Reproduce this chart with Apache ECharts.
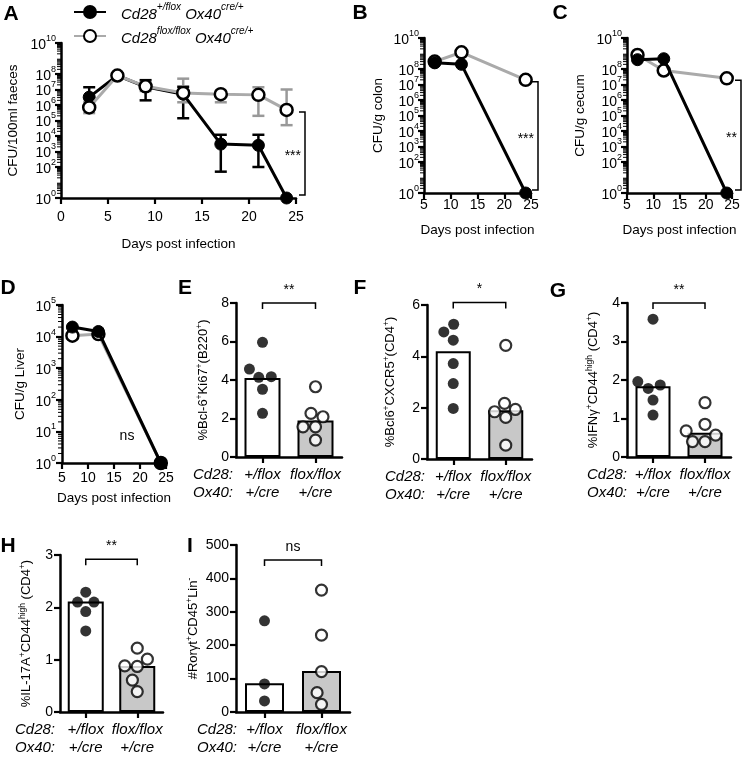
<!DOCTYPE html>
<html><head><meta charset="utf-8">
<script src="https://cdn.jsdelivr.net/npm/echarts@6/dist/echarts.min.js"></script>
<style>html,body{margin:0;padding:0;background:#fff}#c{width:743px;height:758px}</style>
</head><body><div id="c"></div>
<script>
// ---------------- DATA ----------------
// Panel A: CFU/100ml faeces
const daysFaeces = [3, 6, 9, 13, 17, 21, 24];
const faecesHet = [3.2e6, 8e7, 1.5e7, 5e6, 3e3, 2.5e3, 1];
const faecesHetLow = [6e5, 5e7, 2e6, 1.4e5, 50, 100, 1];
const faecesHetHigh = [1.4e7, 1.1e8, 4e7, 1.5e7, 1.2e4, 1.2e4, 1];
const faecesKo = [7e5, 8e7, 1.6e7, 6e6, 5e6, 4.5e6, 4.8e5];
const faecesKoLow = [3e5, 5e7, 8e6, 1.5e6, 1.5e6, 2e5, 5e4];
const faecesKoHigh = [1.5e6, 1.1e8, 3e7, 5e7, 8e6, 1.4e7, 1e7];
// Panels B-D
const daysOrgan = [7, 12, 24];
const colonHet = [2.5e8, 2e8, 1];
const colonKo = [3e8, 1.2e9, 2e7];
const cecumHet = [4e8, 4.6e8, 1];
const cecumKo = [8e8, 8e7, 2.5e7];
const liverHet = [2e4, 1.45e4, 1];
const liverKo = [1.07e4, 1.2e4, 1];
// Panels E-I (genotype groups)
const genotypeCats = ['+/flox\n+/cre', 'flox/flox\n+/cre'];
const bcl6Ki67Het = [5.96, 4.57, 4.14, 4.17, 3.52, 2.27];
const bcl6Ki67Ko = [3.65, 2.27, 2.09, 1.57, 1.57, 0.88];
const bcl6Ki67Bars = [4.1, 1.9];
const bcl6Cxcr5Het = [5.25, 4.95, 4.63, 3.72, 2.94, 1.97];
const bcl6Cxcr5Ko = [4.43, 2.17, 1.93, 1.84, 1.62, 0.54];
const bcl6Cxcr5Bars = [4.2, 1.9];
const ifngHet = [3.58, 1.96, 1.87, 1.78, 1.48, 1.09];
const ifngKo = [1.41, 0.85, 0.68, 0.57, 0.4, 0.4];
const ifngBars = [1.84, 0.63];
const il17Het = [2.29, 2.10, 2.10, 1.92, 1.55];
const il17Ko = [1.22, 1.01, 0.88, 0.87, 0.61, 0.39];
const il17Bars = [2.11, 0.88];
const rorgtHet = [273, 84, 33];
const rorgtKo = [365, 230, 121, 58, 23];
const rorgtBars = [86, 123];
// significance labels and bracket levels
const sigLabels = {A:'***', B:'***', C:'**', D:'ns', E:'**', F:'*', G:'**', H:'**', I:'ns'};
const sigLevels = {E:8, F:6.1, G:4, H:2.92, I:455};

// ---------------- LAYOUT / STYLE ----------------
const FONT = '"Liberation Sans", Arial, Helvetica, sans-serif';
const L = {
  A:{left:61, top:43, width:235, height:155},
  B:{left:424, top:38, width:107, height:155},
  C:{left:627, top:38, width:105, height:155},
  D:{left:62, top:305, width:104, height:158},
  E:{left:236, top:303, width:106, height:154},
  F:{left:427, top:305, width:105, height:154},
  G:{left:627, top:303, width:104, height:154},
  H:{left:60, top:555, width:103, height:157},
  I:{left:236, top:545, width:114, height:167}
};
const order = ['A','B','C','D','E','F','G','H','I'];
const gi = k => order.indexOf(k);
const GREY_LINE = '#aaaaaa';
const BAR_GREY = '#c8c8c8';

const grids = order.map(k => ({left:L[k].left, top:L[k].top, width:L[k].width, height:L[k].height, containLabel:false}));
const xAxes = [], yAxes = [], series = [];

const axisLineStyle = {show:true, lineStyle:{color:'#000', width:2.5}};
const tickStyle = len => ({show:true, length:len, lineStyle:{color:'#000', width:2.2}});

// decades: the axis max is set a hair under the last decade so that ECharts puts one tick per decade
function logY(k, maxExp, name, nameGap, margin){
  yAxes.push({
    gridIndex: gi(k), type:'log', logBase:10, min:1, max:Math.pow(10, maxExp) * 0.9999,
    axisLine: axisLineStyle, axisTick: tickStyle(6),
    splitLine:{show:false},
    axisLabel:{
      margin: margin, color:'#000', fontFamily:FONT, showMaxLabel:true, showMinLabel:true,
      formatter: v => '{b|10}{s|' + Math.round(Math.log10(v)) + '}',
      rich:{
        b:{fontSize:14, lineHeight:18, verticalAlign:'bottom', fontFamily:FONT, color:'#000'},
        s:{fontSize:9, lineHeight:9, verticalAlign:'top', fontFamily:FONT, color:'#000'}
      }
    },
    name: name, nameLocation:'middle', nameGap: nameGap, nameRotate:90,
    nameTextStyle:{fontSize:13.5, fontFamily:FONT, color:'#000'}
  });
}
// log minor ticks (2..9 x 10^n) drawn through the axis scale
function logMinorTicks(k, xMin, maxExp){
  const vals = [];
  for (let e = 0; e < maxExp; e++) for (let m = 2; m <= 9; m++) vals.push([xMin, m * Math.pow(10, e)]);
  series.push({
    type:'custom', xAxisIndex: gi(k), yAxisIndex: gi(k), z:0, silent:true, clip:false,
    data: vals, encode:{x:0, y:1},
    renderItem(params, api){
      const p = api.coord([api.value(0), api.value(1)]);
      return {type:'line', shape:{x1:p[0]-4, y1:p[1], x2:p[0], y2:p[1]}, style:{stroke:'#000', lineWidth:1}};
    }
  });
}
function dayX(k, min, nameGap, margin){
  xAxes.push({
    gridIndex: gi(k), type:'value', min:min, max:25, interval:5,
    axisLine: axisLineStyle, axisTick: tickStyle(6), splitLine:{show:false},
    axisLabel:{margin: margin, fontSize:14, fontFamily:FONT, color:'#000'},
    name:'Days post infection', nameLocation:'middle', nameGap:nameGap,
    nameTextStyle:{fontSize:13.5, fontFamily:FONT, color:'#000'}
  });
}
function lineSeries(k, name, days, vals, filled, z){
  series.push({
    type:'line', name: name, xAxisIndex: gi(k), yAxisIndex: gi(k), z: z,
    data: days.map((d,i)=>[d, vals[i]]),
    symbol:'circle', symbolSize:12, showAllSymbol:true,
    lineStyle:{color: filled ? '#000' : GREY_LINE, width:3},
    itemStyle: filled ? {color:'#000', borderColor:'#000', borderWidth:1}
                      : {color:'#fff', borderColor:'#000', borderWidth:2.5},
    emphasis:{disabled:true}
  });
}
function errorSeries(k, days, lo, hi, color){
  series.push({
    type:'custom', xAxisIndex: gi(k), yAxisIndex: gi(k), z:1, silent:true, clip:false,
    data: days.map((d,i)=>[d, lo[i], hi[i]]).filter(r => r[1] !== r[2]),
    encode:{x:0, y:[1,2]},
    renderItem(params, api){
      const x = api.value(0);
      const a = api.coord([x, api.value(1)]), b = api.coord([x, api.value(2)]);
      const cap = 6, st = {stroke: color, lineWidth: 2.5};
      return {type:'group', children:[
        {type:'line', shape:{x1:a[0], y1:a[1], x2:b[0], y2:b[1]}, style:st},
        {type:'line', shape:{x1:a[0]-cap, y1:a[1], x2:a[0]+cap, y2:a[1]}, style:st},
        {type:'line', shape:{x1:b[0]-cap, y1:b[1], x2:b[0]+cap, y2:b[1]}, style:st}
      ]};
    }
  });
}
function sideBracket(k, day, top, bottom, dxPx, label){
  series.push({
    type:'custom', xAxisIndex: gi(k), yAxisIndex: gi(k), z:5, silent:true, clip:false,
    data:[[day, top, bottom]], encode:{x:0, y:[1,2]},
    renderItem(params, api){
      const a = api.coord([api.value(0), api.value(1)]), b = api.coord([api.value(0), api.value(2)]);
      const x = a[0] + dxPx, y1 = a[1] + 2, y2 = b[1] - 3;
      return {type:'group', children:[
        {type:'polyline', shape:{points:[[x-6,y1],[x,y1],[x,y2],[x-6,y2]]}, style:{stroke:'#000', lineWidth:1.5, fill:null}},
        {type:'text', x: x-4, y:(y1+y2)/2 + 3, style:{text:label, fill:'#000', font:'14px '+FONT, align:'right', verticalAlign:'middle'}}
      ]};
    }
  });
}

// ---- Panel A ----
dayX('A', 0, 39, 12);
logY('A', 10, 'CFU/100ml faeces', 41, 5);
logMinorTicks('A', 0, 10);
errorSeries('A', daysFaeces, faecesHetLow, faecesHetHigh, '#000');
errorSeries('A', daysFaeces, faecesKoLow, faecesKoHigh, '#999');
lineSeries('A', 'het', daysFaeces, faecesHet, true, 2);
lineSeries('A', 'ko', daysFaeces, faecesKo, false, 3);
sideBracket('A', 25, faecesKo[faecesKo.length-1], faecesHet[faecesHet.length-1], 9, sigLabels.A);
// ---- Panel B ----
dayX('B', 5, 30, 5);
logY('B', 10, 'CFU/g colon', 39, 5);
logMinorTicks('B', 5, 10);
lineSeries('B', 'ko_b', daysOrgan, colonKo, false, 2);
lineSeries('B', 'het_b', daysOrgan, colonHet, true, 3);
sideBracket('B', 25, colonKo[2], colonHet[2], 7, sigLabels.B);
// ---- Panel C ----
dayX('C', 5, 30, 5);
logY('C', 10, 'CFU/g cecum', 40, 5);
logMinorTicks('C', 5, 10);
lineSeries('C', 'ko_c', daysOrgan, cecumKo, false, 2);
lineSeries('C', 'het_c', daysOrgan, cecumHet, true, 3);
sideBracket('C', 25, cecumKo[2], cecumHet[2], 9, sigLabels.C);
// ---- Panel D ----
dayX('D', 5, 28, 8);
logY('D', 5, 'CFU/g Liver', 35, 6);
logMinorTicks('D', 5, 5);
lineSeries('D', 'ko_d', daysOrgan, liverKo, false, 2);
lineSeries('D', 'het_d', daysOrgan, liverHet, true, 3);

// ---- Bar panels ----
const SYM = 11;
function swarm(values, ppu, D){
  const idx = values.map((v,i)=>i).sort((a,b)=>values[a]-values[b]);
  const placed = [], off = new Array(values.length).fill(0);
  for (const i of idx){
    const y = values[i]*ppu;
    const cands = [0];
    for (const p of placed){
      const dy = Math.abs(y-p.y);
      if (dy < D){ const dx = Math.sqrt(D*D-dy*dy); cands.push(p.x-dx, p.x+dx); }
    }
    cands.sort((a,b)=>Math.abs(a)-Math.abs(b) || a-b);
    let x = 0;
    for (const c of cands){
      if (placed.every(p => (p.x-c)*(p.x-c)+(p.y-y)*(p.y-y) >= D*D-0.01)){ x = c; break; }
    }
    placed.push({x, y}); off[i] = x;
  }
  return off;
}
function barPanel(k, max, interval, yName, nameGap, barW, bars, het, ko){
  xAxes.push({
    gridIndex: gi(k), type:'category', data: genotypeCats, boundaryGap:true,
    axisLine: axisLineStyle, axisTick:{show:true, alignWithLabel:true, length:6, lineStyle:{color:'#000', width:2.2}},
    axisLabel:{margin:9, fontSize:15, fontStyle:'italic', lineHeight:18, fontFamily:FONT, color:'#000', interval:0}
  });
  yAxes.push({
    gridIndex: gi(k), type:'value', min:0, max:max, interval:interval,
    axisLine: axisLineStyle, axisTick: tickStyle(6), splitLine:{show:false},
    axisLabel:{margin:7, fontSize:14, fontFamily:FONT, color:'#000'},
    name: yName, nameLocation:'middle', nameGap:nameGap, nameRotate:90,
    nameTextStyle:{fontSize:13, lineHeight:17, fontFamily:FONT, color:'#000',
      rich:{s:{fontSize:8.5, lineHeight:8, verticalAlign:'top', fontFamily:FONT, color:'#000'}}}
  });
  series.push({
    type:'bar', xAxisIndex: gi(k), yAxisIndex: gi(k), barWidth: barW, z:2, silent:true,
    data: bars.map((v,i)=>({value:v, itemStyle:{color: i ? BAR_GREY : '#fff'}})),
    itemStyle:{borderColor:'#000', borderWidth:2}
  });
  const ppu = L[k].height / max;
  [het, ko].forEach((vals, c) => {
    const off = swarm(vals, ppu, SYM + 1.5);
    series.push({
      type:'scatter', xAxisIndex: gi(k), yAxisIndex: gi(k), z:4, silent:true,
      symbol:'circle', symbolSize: SYM,
      data: vals.map((v,i)=>({value:[c, v], symbolOffset:[off[i], 0]})),
      itemStyle: c ? {color:'#fff', borderColor:'#000', borderWidth:2.2} : {color:'#000'}
    });
  });
  series.push({
    type:'custom', xAxisIndex: gi(k), yAxisIndex: gi(k), z:5, silent:true, clip:false,
    data:[[0, sigLevels[k]]],
    renderItem(params, api){
      const a = api.coord([0, api.value(1)]), b = api.coord([1, api.value(1)]);
      return {type:'group', children:[
        {type:'polyline', shape:{points:[[a[0],a[1]+6],[a[0],a[1]],[b[0],b[1]],[b[0],b[1]+6]]}, style:{stroke:'#000', lineWidth:1.5, fill:null}},
        {type:'text', x:(a[0]+b[0])/2, y:a[1]-13, style:{text:sigLabels[k], fill:'#000', font:'14px '+FONT, align:'center', verticalAlign:'middle'}}
      ]};
    }
  });
}
barPanel('E', 8, 2, '%Bcl-6{s|+}Ki67{s|+}(B220{s|+})', 24, 36, bcl6Ki67Bars, bcl6Ki67Het, bcl6Ki67Ko);
barPanel('F', 6, 2, '%Bcl6{s|+}CXCR5{s|+}(CD4{s|+})', 28, 35, bcl6Cxcr5Bars, bcl6Cxcr5Het, bcl6Cxcr5Ko);
barPanel('G', 4, 1, '%IFNγ{s|+}CD44{s|high} (CD4{s|+})', 25, 35, ifngBars, ifngHet, ifngKo);
barPanel('H', 3, 1, '%IL-17A{s|+}CD44{s|high} (CD4{s|+})', 25, 36, il17Bars, il17Het, il17Ko);
barPanel('I', 500, 100, '#Rorγt{s|+}CD45{s|+}Lin{s|-}', 29, 39, rorgtBars, rorgtHet, rorgtKo);

// ---- graphic: panel letters, row headers, ns ----
const letterPos = {A:[11,14], B:[360,13], C:[560,13], D:[8,288], E:[185,288], F:[360,288], G:[558,291], H:[8,546], I:[190,546]};
const graphic = order.map(k => ({type:'text', x:letterPos[k][0], y:letterPos[k][1],
  style:{text:k, font:'bold 21px '+FONT, fill:'#000', align:'center', verticalAlign:'middle'}}));
const rowHeaderX = {E:193, F:385, G:587, H:15, I:197};
Object.keys(rowHeaderX).forEach(k => graphic.push({type:'text', x:rowHeaderX[k], y:L[k].top + L[k].height + 9,
  style:{text:'Cd28:\nOx40:', font:'italic 15px '+FONT, lineHeight:18, fill:'#000', align:'left', verticalAlign:'top'}}));
graphic.push({type:'text', x:127, y:436, style:{text:sigLabels.D, font:'14px '+FONT, fill:'#000', align:'center', verticalAlign:'middle'}});

const legendRich = {
  g:{width:10},
  i:{fontSize:15, fontStyle:'italic', lineHeight:20, verticalAlign:'bottom', fontFamily:FONT, color:'#000'},
  s:{fontSize:10, fontStyle:'italic', lineHeight:10, verticalAlign:'top', fontFamily:FONT, color:'#000'}
};
const legendText = {
  het:'{g| }{i|Cd28}{s|+/flox}{i| Ox40}{s|cre/+}',
  ko:'{g| }{i|Cd28}{s|flox/flox}{i| Ox40}{s|cre/+}'
};

const chart = echarts.init(document.getElementById('c'), null, {renderer:'canvas'});
chart.setOption({
  animation:false,
  backgroundColor:'#fff',
  textStyle:{fontFamily:FONT},
  grid: grids, xAxis: xAxes, yAxis: yAxes, series: series, graphic: graphic,
  legend:{
    data:['het','ko'], orient:'vertical', left:68, top:-3, itemGap:4,
    itemWidth:32, itemHeight:15, selectedMode:false,
    formatter: n => legendText[n],
    textStyle:{fontSize:15, fontStyle:'italic', fontFamily:FONT, color:'#000', rich: legendRich}
  }
});
</script></body></html>
